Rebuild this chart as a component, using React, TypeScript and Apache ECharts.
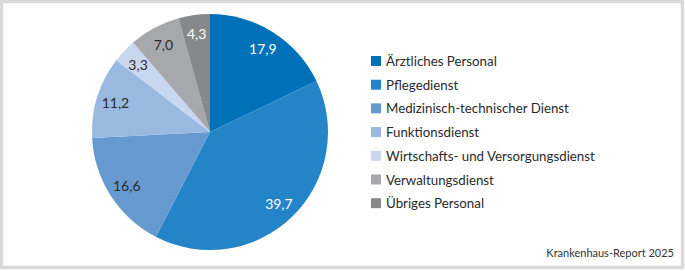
import React, { useEffect, useRef } from "react";
import * as echarts from "echarts";

const categories = [
  "Ärztliches Personal",
  "Pflegedienst",
  "Medizinisch-technischer Dienst",
  "Funktionsdienst",
  "Wirtschafts- und Versorgungsdienst",
  "Verwaltungsdienst",
  "Übriges Personal",
];
const values = [17.9, 39.7, 16.6, 11.2, 3.3, 7.0, 4.3];
const colors = ["#0071b9", "#2385c8", "#6699d0", "#99b9e1", "#c8d7ef", "#a6a8ab", "#87888a"];
const labelColors = ["#ffffff", "#ffffff", "#2a2a2a", "#2a2a2a", "#2a2a2a", "#2a2a2a", "#ffffff"];
const sourceText = "Krankenhaus-Report 2025";

const FONT = "Lato";
const fmt = (v: number) => v.toFixed(1).replace(".", ",");

export default function App() {
  const ref = useRef<HTMLDivElement>(null);
  useEffect(() => {
    document.body.style.margin = "0";
    const chart = echarts.init(ref.current!, null, { renderer: "svg" });
    const data = categories.map((name, i) => ({
      name,
      value: values[i],
      itemStyle: { color: colors[i] },
    }));
    const labelData = categories.map((name, i) => ({
      name,
      value: values[i],
      label: { color: labelColors[i] },
    }));
    chart.setOption({
      animation: false,
      graphic: [
        {
          type: "rect",
          shape: { x: 1.5, y: 1.5, width: 681, height: 266 },
          style: { fill: "none", stroke: "#d9d9d9", lineWidth: 3.5 },
          silent: true,
        },
        {
          type: "text",
          right: 11,
          top: 247,
          style: {
            text: sourceText,
            font: `11px ${FONT}`,
            fill: "#333333",
          },
        },
      ],
      legend: {
        orient: "vertical",
        left: 366,
        top: 48,
        itemWidth: 10,
        itemHeight: 10,
        itemGap: 7.7,
        icon: "rect",
        data: categories,
        selectedMode: false,
        textStyle: { fontFamily: FONT, fontSize: 13.3, color: "#2a2a2a", lineHeight: 16 },
      },
      series: [
        {
          type: "pie",
          center: [210, 132],
          radius: [0, 118],
          startAngle: 90,
          clockwise: true,
          silent: true,
          label: { show: false },
          labelLine: { show: false },
          itemStyle: { borderWidth: 0 },
          data,
        },
        {
          type: "pie",
          center: [210, 132],
          radius: [74, 118],
          startAngle: 90,
          clockwise: true,
          silent: true,
          legendHoverLink: false,
          itemStyle: { color: "rgba(0,0,0,0)", borderWidth: 0 },
          label: {
            show: true,
            position: "inside",
            fontFamily: FONT,
            fontSize: 14,
            formatter: (p: any) => fmt(p.value),
          },
          labelLine: { show: false },
          data: labelData,
        },
      ],
    });
    return () => chart.dispose();
  }, []);
  return <div ref={ref} style={{ width: 685, height: 271 }} />;
}
